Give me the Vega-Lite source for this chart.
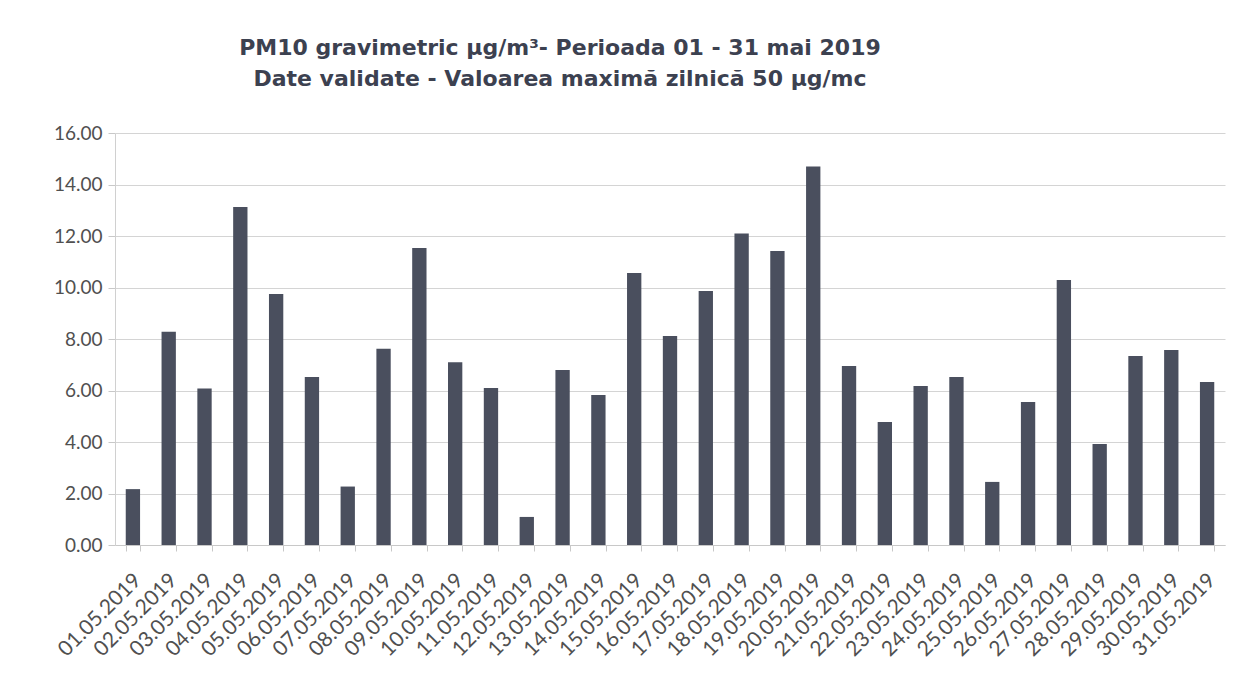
{
  "$schema": "https://vega.github.io/schema/vega-lite/v6.json",
  "width": 1110,
  "height": 412,
  "autosize": "none",
  "padding": {"left": 115, "top": 133, "right": 28, "bottom": 135},
  "background": "white",
  "title": {
    "text": ["PM10 gravimetric µg/m³- Perioada 01 - 31 mai  2019", "Date validate -  Valoarea maximă zilnică 50 µg/mc"],
    "font": "DejaVu Sans",
    "fontSize": 22,
    "fontWeight": "bold",
    "color": "#3c4150",
    "anchor": "middle",
    "frame": "group",
    "dx": -110,
    "offset": 33,
    "lineHeight": 31
  },
  "data": {
    "values": [
      {"d": "01.05.2019", "v": 2.17},
      {"d": "02.05.2019", "v": 8.28},
      {"d": "03.05.2019", "v": 6.08},
      {"d": "04.05.2019", "v": 13.13},
      {"d": "05.05.2019", "v": 9.75},
      {"d": "06.05.2019", "v": 6.52},
      {"d": "07.05.2019", "v": 2.27},
      {"d": "08.05.2019", "v": 7.62},
      {"d": "09.05.2019", "v": 11.53},
      {"d": "10.05.2019", "v": 7.1},
      {"d": "11.05.2019", "v": 6.1},
      {"d": "12.05.2019", "v": 1.09},
      {"d": "13.05.2019", "v": 6.8},
      {"d": "14.05.2019", "v": 5.83},
      {"d": "15.05.2019", "v": 10.56},
      {"d": "16.05.2019", "v": 8.12},
      {"d": "17.05.2019", "v": 9.86},
      {"d": "18.05.2019", "v": 12.1},
      {"d": "19.05.2019", "v": 11.42},
      {"d": "20.05.2019", "v": 14.7},
      {"d": "21.05.2019", "v": 6.95},
      {"d": "22.05.2019", "v": 4.78},
      {"d": "23.05.2019", "v": 6.17},
      {"d": "24.05.2019", "v": 6.52},
      {"d": "25.05.2019", "v": 2.45},
      {"d": "26.05.2019", "v": 5.55},
      {"d": "27.05.2019", "v": 10.29},
      {"d": "28.05.2019", "v": 3.92},
      {"d": "29.05.2019", "v": 7.34},
      {"d": "30.05.2019", "v": 7.57},
      {"d": "31.05.2019", "v": 6.33}
    ]
  },
  "mark": {"type": "bar", "color": "#4a4f5e"},
  "encoding": {
    "x": {
      "field": "d",
      "type": "ordinal",
      "sort": null,
      "title": null,
      "scale": {"paddingInner": 0.6, "paddingOuter": 0.3},
      "axis": {
        "labelAngle": -45,
        "labelFont": "Lato",
        "labelFontSize": 21,
        "labelColor": "#505050",
        "labelPadding": 18,
        "labelOffset": -3,
        "tickBand": "extent",
        "tickSize": 6,
        "tickColor": "#c8c8c8",
        "domainColor": "#c8c8c8",
        "grid": false
      }
    },
    "y": {
      "field": "v",
      "type": "quantitative",
      "title": null,
      "scale": {"domain": [0, 16]},
      "axis": {
        "values": [0, 2, 4, 6, 8, 10, 12, 14, 16],
        "format": ".2f",
        "labelFont": "Lato",
        "labelFontSize": 19,
        "labelColor": "#505050",
        "labelPadding": 6,
        "tickSize": 7,
        "tickColor": "#c8c8c8",
        "domainColor": "#d0d0d0",
        "gridColor": "#d4d4d4",
        "grid": true
      }
    }
  },
  "config": {"view": {"stroke": null}}
}
